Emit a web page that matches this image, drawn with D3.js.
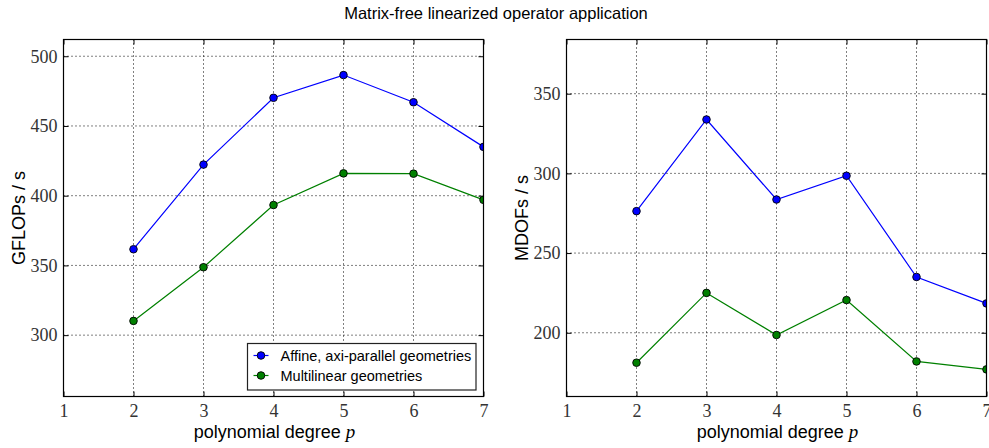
<!DOCTYPE html>
<html>
<head>
<meta charset="utf-8">
<script src="https://cdn.jsdelivr.net/npm/d3@7"></script>
<style>
  html, body { margin: 0; padding: 0; background: #fff; }
  svg { display: block; }
</style>
</head>
<body>
<svg id="chart" width="989" height="448"></svg>
<script>
// Polynomial degrees on the x axis
const degrees = [2, 3, 4, 5, 6, 7];
const xTicks = [1, 2, 3, 4, 5, 6, 7];

// Throughput in GFLOPs/s
const gflopsAffine = [361.6, 422.3, 470.2, 486.5, 467.0, 435.0];
const gflopsMultilinear = [310.2, 348.7, 393.3, 416.0, 415.8, 397.0];
const gflopsTicks = [300, 350, 400, 450, 500];

// Throughput in MDOFs/s
const mdofsAffine = [276.3, 333.8, 283.6, 298.5, 235.0, 218.4];
const mdofsMultilinear = [181.2, 225.0, 198.6, 220.5, 182.0, 177.0];
const mdofsTicks = [200, 250, 300, 350];

const seriesNames = ["Affine, axi-parallel geometries", "Multilinear geometries"];
const seriesColors = ["#0000ff", "#008000"];

const svg = d3.select("#chart");
const tickFont = "'Liberation Serif', 'DejaVu Serif', serif";
const labelFont = "'Liberation Sans', Arial, sans-serif";

svg.append("text")
  .attr("x", 496).attr("y", 19)
  .attr("text-anchor", "middle")
  .style("font-family", labelFont).style("font-size", "16.5px")
  .attr("fill", "#000")
  .text("Matrix-free linearized operator application");

function panel(opts) {
  const { left, right, top, bottom, yDomain, yTicks, ylabel, series, legend } = opts;
  const g = svg.append("g");
  const x = d3.scaleLinear().domain([1, 7]).range([left, right]);
  const y = d3.scaleLinear().domain(yDomain).range([bottom, top]);

  // dotted grid
  g.append("g").selectAll("line").data(xTicks.slice(1, -1)).join("line")
    .attr("x1", d => x(d)).attr("x2", d => x(d))
    .attr("y1", top).attr("y2", bottom)
    .attr("stroke", "#000").attr("stroke-width", 1).attr("stroke-dasharray", "1,3");
  g.append("g").selectAll("line").data(yTicks).join("line")
    .attr("x1", left).attr("x2", right)
    .attr("y1", d => y(d)).attr("y2", d => y(d))
    .attr("stroke", "#000").attr("stroke-width", 1).attr("stroke-dasharray", "1,3");

  // axes with inward ticks on all four sides
  const styleAxis = sel => {
    sel.select(".domain").remove();
    sel.selectAll(".tick line").attr("stroke", "#000");
    sel.selectAll(".tick text").style("font-family", tickFont).style("font-size", "18px").attr("fill", "#333");
  };
  g.append("g").attr("transform", `translate(0,${bottom})`)
    .call(d3.axisBottom(x).tickValues(xTicks).tickFormat(d3.format("d")).tickSizeInner(-5).tickPadding(8))
    .call(styleAxis);
  g.append("g").attr("transform", `translate(0,${top})`)
    .call(d3.axisTop(x).tickValues(xTicks).tickFormat("").tickSizeInner(-5))
    .call(styleAxis);
  g.append("g").attr("transform", `translate(${left},0)`)
    .call(d3.axisLeft(y).tickValues(yTicks).tickFormat(d3.format("d")).tickSizeInner(-5).tickPadding(6))
    .call(styleAxis);
  g.append("g").attr("transform", `translate(${right},0)`)
    .call(d3.axisRight(y).tickValues(yTicks).tickFormat("").tickSizeInner(-5))
    .call(styleAxis);

  // clipped data
  const clipId = "clip" + Math.round(left);
  svg.append("clipPath").attr("id", clipId)
    .append("rect").attr("x", left).attr("y", top).attr("width", right - left).attr("height", bottom - top);
  const data = g.append("g").attr("clip-path", `url(#${clipId})`);
  const line = d3.line().x((d, i) => x(degrees[i])).y(d => y(d));
  series.forEach((vals, k) => {
    data.append("path").datum(vals)
      .attr("d", line).attr("fill", "none")
      .attr("stroke", seriesColors[k]).attr("stroke-width", 1.2);
    data.append("g").selectAll("circle").data(vals).join("circle")
      .attr("cx", (d, i) => x(degrees[i])).attr("cy", d => y(d))
      .attr("r", 3.8).attr("fill", seriesColors[k])
      .attr("stroke", "#000").attr("stroke-width", 0.9);
  });

  // frame
  g.append("rect").attr("x", left).attr("y", top)
    .attr("width", right - left).attr("height", bottom - top)
    .attr("fill", "none").attr("stroke", "#000").attr("stroke-width", 1.2);

  // axis labels
  const xl = g.append("text")
    .attr("x", (left + right) / 2 + 1).attr("y", 438)
    .attr("text-anchor", "middle")
    .style("font-family", labelFont).style("font-size", "18px").attr("fill", "#000");
  xl.append("tspan").text("polynomial degree ");
  xl.append("tspan").style("font-family", tickFont).style("font-style", "italic").style("font-size", "19px").text("p");

  g.append("text")
    .attr("transform", `translate(${left - 39},${(top + bottom) / 2}) rotate(-90)`)
    .attr("text-anchor", "middle")
    .style("font-family", labelFont).style("font-size", "18px").attr("fill", "#000")
    .text(ylabel);

  if (legend) {
    const lx = 247.5, ly = 343.5, lw = 228.5, lh = 46.5;
    const lg = g.append("g");
    lg.append("rect").attr("x", lx).attr("y", ly).attr("width", lw).attr("height", lh)
      .attr("fill", "#fff").attr("stroke", "#222").attr("stroke-width", 1.2);
    seriesNames.forEach((name, k) => {
      const cy = ly + 12 + k * 20;
      lg.append("line").attr("x1", lx + 6).attr("x2", lx + 21).attr("y1", cy).attr("y2", cy)
        .attr("stroke", seriesColors[k]).attr("stroke-width", 1.2);
      lg.append("circle").attr("cx", lx + 13.5).attr("cy", cy).attr("r", 3.8)
        .attr("fill", seriesColors[k]).attr("stroke", "#000").attr("stroke-width", 0.9);
      lg.append("text").attr("x", lx + 33).attr("y", cy + 5)
        .style("font-family", labelFont).style("font-size", "14.5px").attr("fill", "#000")
        .text(name);
    });
  }
}

panel({
  left: 63.5, right: 483.5, top: 39.5, bottom: 396.5,
  yDomain: [256, 512], yTicks: gflopsTicks, ylabel: "GFLOPs / s",
  series: [gflopsAffine, gflopsMultilinear], legend: true
});
panel({
  left: 566.5, right: 986.5, top: 39.5, bottom: 396.5,
  yDomain: [160, 384], yTicks: mdofsTicks, ylabel: "MDOFs / s",
  series: [mdofsAffine, mdofsMultilinear], legend: false
});
</script>
</body>
</html>
